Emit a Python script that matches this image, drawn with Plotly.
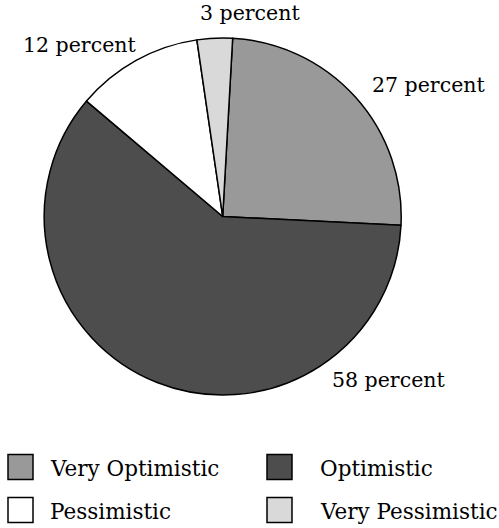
import plotly.graph_objects as go

# Data
categories = ["Very Optimistic", "Optimistic", "Pessimistic", "Very Pessimistic"]
slice_shares = [24.9, 60.4, 11.5, 3.2]          # shares as drawn in the picture
label_texts = ["27 percent", "58 percent", "12 percent", "3 percent"]
colors = ["#999999", "#4d4d4d", "#ffffff", "#d9d9d9"]

W, H = 499, 528
FONT = "DejaVu Serif"

def px(x):
    return x / W

def py(y):
    return 1 - y / H

cx, cy, r = 222.7, 216.5, 178.5

fig = go.Figure(go.Pie(
    labels=categories,
    values=slice_shares,
    sort=False,
    direction="clockwise",
    rotation=3.2,
    marker=dict(colors=colors, line=dict(color="black", width=1.5)),
    textinfo="none",
    hoverinfo="label",
    showlegend=False,
    domain=dict(x=[px(cx - r), px(cx + r)], y=[py(cy + r), py(cy - r)]),
))

# Slice labels (positions as in the reference)
label_pos = {"27 percent": (428, 85), "58 percent": (388, 380),
             "12 percent": (79, 45), "3 percent": (250, 13)}
annotations = []
for t in label_texts:
    x, y = label_pos[t]
    annotations.append(dict(text=t, x=px(x), y=py(y), xref="paper", yref="paper",
                            xanchor="center", yanchor="middle", showarrow=False,
                            font=dict(family=FONT, size=20.5, color="black")))

# Custom legend in two columns
shapes = []
box_x = [8, 267]
text_x = [48, 318]
leg_rows = [454.5, 497.5]
box = 25
for i, (cat, col) in enumerate(zip(categories, colors)):
    x0 = box_x[i % 2]
    y0 = leg_rows[i // 2]
    shapes.append(dict(type="rect", xref="paper", yref="paper",
                       x0=px(x0), x1=px(x0 + box), y0=py(y0 + box), y1=py(y0),
                       fillcolor=col, line=dict(color="black", width=1.5)))
    annotations.append(dict(text=cat, x=px(text_x[i % 2]), y=py(y0 + box / 2 + 1),
                            xref="paper", yref="paper", xanchor="left", yanchor="middle",
                            showarrow=False, font=dict(family=FONT, size=21.5, color="black")))

fig.update_layout(
    width=W, height=H,
    margin=dict(l=0, r=0, t=0, b=0),
    paper_bgcolor="white", plot_bgcolor="white",
    annotations=annotations, shapes=shapes,
)

fig.write_html("out.html", config={"displayModeBar": False},
               post_script="document.body.style.margin='0';document.body.style.padding='0';")
